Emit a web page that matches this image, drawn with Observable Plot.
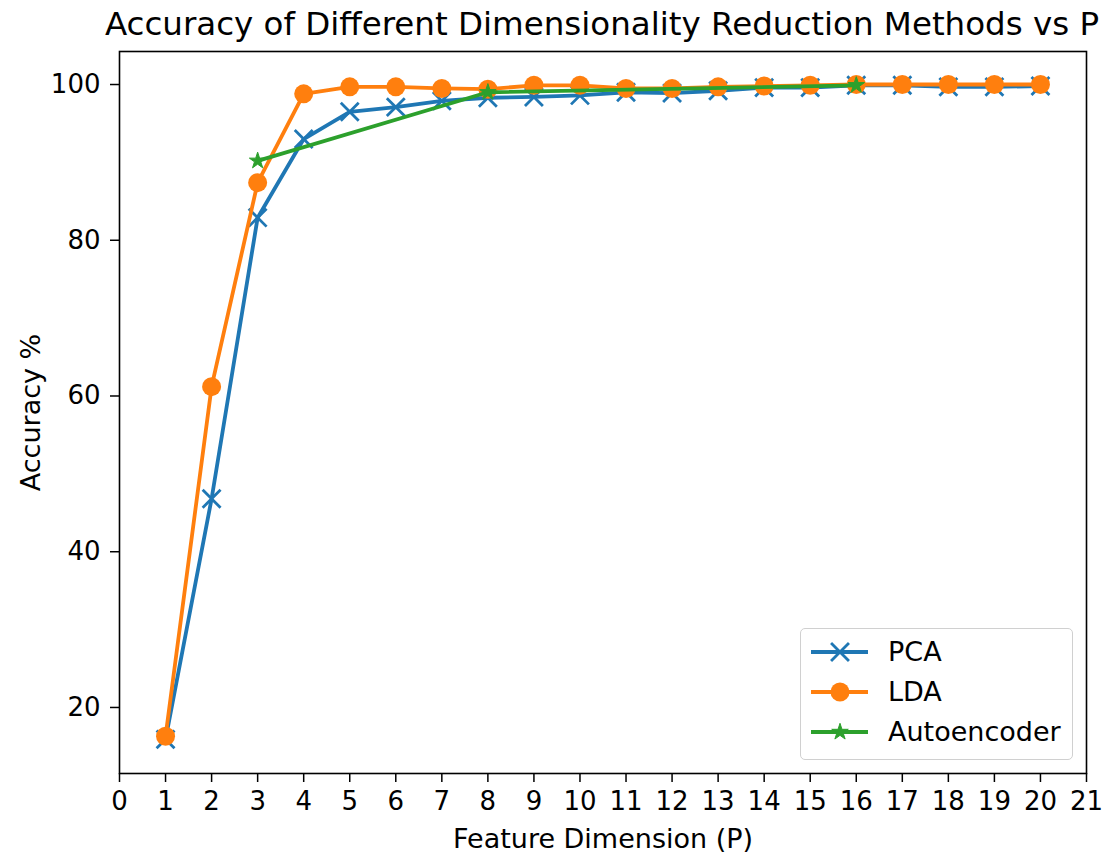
<!DOCTYPE html>
<html>
<head>
<meta charset="utf-8">
<script src="https://cdn.jsdelivr.net/npm/d3@7"></script>
<script src="https://cdn.jsdelivr.net/npm/@observablehq/plot@0.6"></script>
<style>
  html, body { margin: 0; padding: 0; background: #fff; }
  #fig { position: relative; width: 1106px; height: 859px; font-family: "DejaVu Sans", sans-serif; }
  #title { position: absolute; left: 0; width: 1204px; top: 0; height: 46px; line-height: 48px; text-align: center; font-size: 32.5px; color: #000; white-space: nowrap; }
  #chart { position: absolute; left: 0; top: 46px; }
  #legend { position: absolute; left: 800px; top: 628px; width: 273px; height: 132px; box-sizing: border-box; border: 1.5px solid #d0d0d0; border-radius: 5px; background: rgba(255,255,255,0.8); }
</style>
</head>
<body>
<div id="fig">
  <div id="title">Accuracy of Different Dimensionality Reduction Methods vs P</div>
  <div id="chart"></div>
  <div id="legend"></div>
</div>
<script>
// ---- data ----
const dims = [1,2,3,4,5,6,7,8,9,10,11,12,13,14,15,16,17,18,19,20];
const pcaAcc = [15.9, 46.8, 82.9, 93.0, 96.5, 97.1, 97.9, 98.3, 98.4, 98.6, 99.0, 98.9, 99.2, 99.6, 99.6, 99.9, 99.9, 99.7, 99.7, 99.8];
const ldaAcc = [16.3, 61.2, 87.4, 98.8, 99.7, 99.7, 99.5, 99.4, 99.9, 99.9, 99.5, 99.5, 99.7, 99.8, 99.9, 100.0, 100.0, 100.0, 100.0, 100.0];
const aeDims = [3, 8, 16];
const aeAcc = [90.2, 99.0, 99.9];
const xTicks = d3.range(0, 22);
const yTicks = [20, 40, 60, 80, 100];
const seriesNames = ["PCA", "LDA", "Autoencoder"];
const colors = ["#1f77b4", "#ff7f0e", "#2ca02c"];

const pca = dims.map((p, i) => ({p, acc: pcaAcc[i]}));
const lda = dims.map((p, i) => ({p, acc: ldaAcc[i]}));
const ae = aeDims.map((p, i) => ({p, acc: aeAcc[i]}));

const chart = Plot.plot({
  width: 1106,
  height: 813,
  marginTop: 5,
  marginLeft: 119,
  marginRight: 20,
  marginBottom: 86,
  style: {fontFamily: "DejaVu Sans, sans-serif", fontSize: "26px", color: "#000", background: "white", overflow: "visible"},
  x: {domain: [0, 21]},
  y: {domain: [11.52, 104.24]},
  marks: [
    Plot.axisX({ticks: xTicks, tickSize: 9, tickPadding: 9, tickFormat: d => String(d), fontSize: 26, strokeWidth: 1.5, label: null}),
    Plot.axisX({ticks: [], tickSize: 0, label: "Feature Dimension (P)", labelAnchor: "center", labelArrow: "none", labelOffset: 74, fontSize: 27}),
    Plot.axisY({ticks: yTicks, tickSize: 9, tickPadding: 10, tickFormat: d => String(d), fontSize: 26, strokeWidth: 1.5, label: null}),
    Plot.axisY({ticks: [], tickSize: 0, label: "Accuracy %", labelAnchor: "center", labelArrow: "none", labelOffset: 99, fontSize: 27}),
    Plot.line(pca, {x: "p", y: "acc", stroke: colors[0], strokeWidth: 3.8}),
    Plot.dot(pca, {x: "p", y: "acc", symbol: "times", r: 8.2, stroke: colors[0], strokeWidth: 2.8}),
    Plot.line(lda, {x: "p", y: "acc", stroke: colors[1], strokeWidth: 3.8}),
    Plot.dot(lda, {x: "p", y: "acc", symbol: "circle", r: 9.5, fill: colors[1], stroke: "none"}),
    Plot.line(ae, {x: "p", y: "acc", stroke: colors[2], strokeWidth: 3.8}),
    Plot.dot(ae, {x: "p", y: "acc", symbol: "star", r: 5.2, fill: colors[2], stroke: colors[2], strokeWidth: 1}),
    Plot.frame({stroke: "#000", strokeWidth: 1.6})
  ]
});
document.getElementById("chart").appendChild(chart);

// ---- legend ----
const lg = d3.select("#legend").append("svg").attr("width", 270).attr("height", 129).style("display", "block");
const symbolTypes = [d3.symbolTimes, d3.symbolCircle, d3.symbolStar];
const symbolSizes = [Math.PI * 8.2 * 8.2, Math.PI * 9.5 * 9.5, Math.PI * 5.2 * 5.2];
seriesNames.forEach((name, i) => {
  const y = 23 + i * 40;
  const g = lg.append("g").attr("transform", `translate(0,${y})`);
  g.append("line").attr("x1", 10).attr("x2", 67).attr("y1", 0).attr("y2", 0).attr("stroke", colors[i]).attr("stroke-width", 3.8);
  const path = g.append("path").attr("transform", "translate(39,0)").attr("d", d3.symbol(symbolTypes[i], symbolSizes[i])());
  if (i === 0) path.attr("fill", "none").attr("stroke", colors[i]).attr("stroke-width", 2.8);
  else path.attr("fill", colors[i]).attr("stroke", i === 2 ? colors[i] : "none");
  g.append("text").attr("x", 87).attr("y", 0).attr("dy", "0.35em").attr("font-size", 27).attr("font-family", "DejaVu Sans, sans-serif").attr("fill", "#000").text(name);
});
</script>
</body>
</html>
